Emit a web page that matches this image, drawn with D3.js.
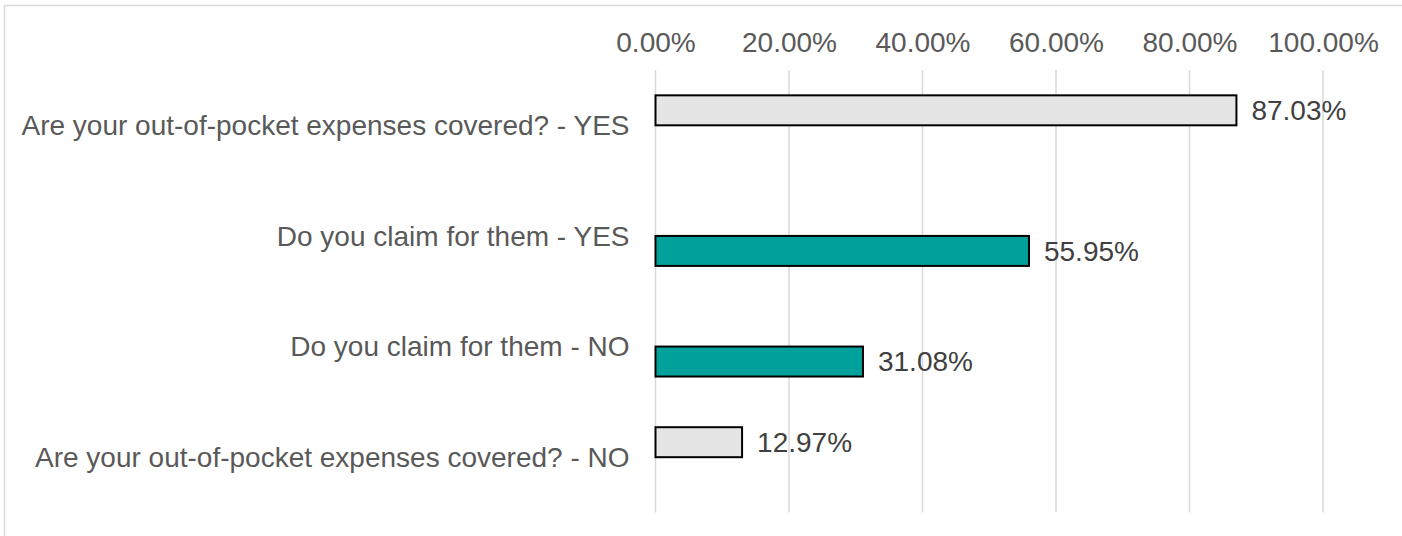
<!DOCTYPE html>
<head>
  <meta charset="utf-8">
  <script src="https://cdn.jsdelivr.net/npm/d3@7/dist/d3.min.js"></script>
  <style>
    body { margin:0; background:#fff; }
    svg { display:block; font-family:"Liberation Sans", Arial, sans-serif; }
  </style>
</head>
<body>
  <script>
    // categories top to bottom, two series (one empty slot per category)
    var categories = [
      "Are your out-of-pocket expenses covered? - YES",
      "Do you claim for them - YES",
      "Do you claim for them - NO",
      "Are your out-of-pocket expenses covered? - NO"
    ];
    var seriesNames = ["covered", "claim"];
    var coveredValues = [87.03, null, null, 12.97];
    var claimValues = [null, 55.95, 31.08, null];
    var tickValues = [0, 20, 40, 60, 80, 100];

    var width = 1402,
        height = 536;
    var margin = {top: 70, right: 79, bottom: 23.5, left: 655.5};

    var svg = d3.select("body")
      .append("svg")
      .attr("width", width)
      .attr("height", height);

    // chart border (right/bottom are cut off in the picture)
    svg.append("rect")
      .attr("x", 4.5).attr("y", 5.5)
      .attr("width", width + 10).attr("height", height + 10)
      .style("fill", "none")
      .style("stroke", "#d9d9d9")
      .style("stroke-width", 1.5);

    var x = d3.scaleLinear()
      .domain([0, 100])
      .range([margin.left, width - margin.right]);

    var y = d3.scaleBand()
      .domain(categories)
      .range([margin.top, height - margin.bottom]);

    // gap width ~169% -> outer padding half of that
    var ySub = d3.scaleBand()
      .domain(seriesNames)
      .range([0, y.bandwidth()])
      .paddingInner(0)
      .paddingOuter(0.845);

    var color = {covered: "#e5e5e5", claim: "#00a19a"};

    // gridlines
    svg.append("g")
      .selectAll("line")
      .data(tickValues)
      .enter()
      .append("line")
      .attr("x1", function(d) { return x(d); })
      .attr("x2", function(d) { return x(d); })
      .attr("y1", margin.top)
      .attr("y2", height - margin.bottom)
      .style("stroke", "#d9d9d9")
      .style("stroke-width", 1.5);

    // top axis labels
    var xAxis = svg.append("g")
      .attr("transform", "translate(0," + margin.top + ")")
      .call(d3.axisTop(x)
        .tickValues(tickValues)
        .tickSize(0)
        .tickPadding(18)
        .tickFormat(function(d) { return d.toFixed(2) + "%"; }));
    xAxis.select(".domain").remove();
    xAxis.selectAll("text")
      .style("font-family", "'Liberation Sans', Arial, sans-serif")
      .style("font-size", "28px")
      .style("fill", "#595959");

    // category labels
    svg.append("g")
      .selectAll("text")
      .data(categories)
      .enter()
      .append("text")
      .attr("x", margin.left - 26)
      .attr("y", function(d) { return y(d) + y.bandwidth() / 2; })
      .attr("dy", "0.35em")
      .attr("text-anchor", "end")
      .style("font-size", "28px")
      .style("fill", "#595959")
      .text(function(d) { return d; });

    // flatten series into bar rows
    var rows = [];
    categories.forEach(function(c, i) {
      if (coveredValues[i] != null) rows.push({cat: c, s: "covered", v: coveredValues[i]});
      if (claimValues[i] != null) rows.push({cat: c, s: "claim", v: claimValues[i]});
    });

    var bars = svg.append("g")
      .selectAll("g")
      .data(rows)
      .enter()
      .append("g");

    bars.append("rect")
      .attr("x", x(0))
      .attr("y", function(d) { return y(d.cat) + ySub(d.s); })
      .attr("width", function(d) { return x(d.v) - x(0); })
      .attr("height", ySub.bandwidth())
      .style("fill", function(d) { return color[d.s]; })
      .style("stroke", "#000")
      .style("stroke-width", 2);

    bars.append("text")
      .attr("x", function(d) { return x(d.v) + 15; })
      .attr("y", function(d) { return y(d.cat) + ySub(d.s) + ySub.bandwidth() / 2; })
      .attr("dy", "0.35em")
      .style("font-size", "28px")
      .style("fill", "#404040")
      .text(function(d) { return d.v.toFixed(2) + "%"; });
  </script>
</body>
